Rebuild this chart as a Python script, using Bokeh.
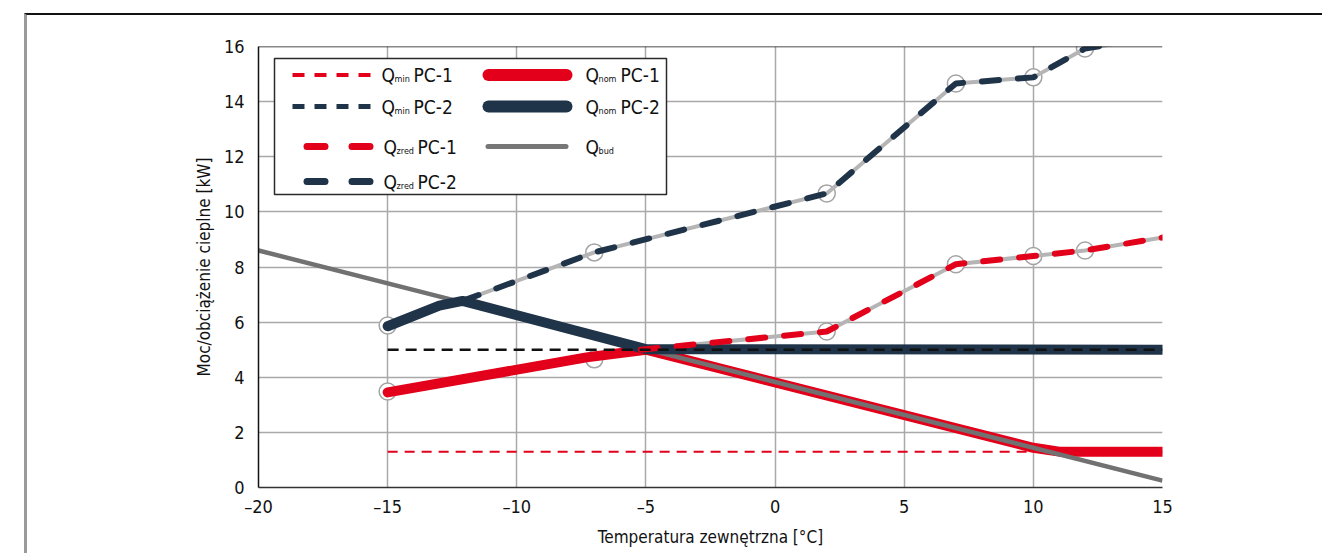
from bokeh.plotting import figure
from bokeh.models import Range1d, Span, FixedTicker
from bokeh.core.properties import value
from bokeh.embed import file_html
from bokeh.resources import INLINE

FONT = "DejaVu Sans Condensed, Liberation Sans, sans-serif"

# ---------------- data ----------------
x_ticks = [-20, -15, -10, -5, 0, 5, 10, 15]
x_tick_labels = ["–20", "–15", "–10", "–5", "0", "5", "10", "15"]
y_ticks = [0, 2, 4, 6, 8, 10, 12, 14, 16]

bud_t = [-20, 15]
bud_q = [8.6, 0.25]

nom1_t = [-15, -7.3, -5.0, 10.0, 11.0, 15]
nom1_q = [3.45, 4.72, 5.0, 1.44, 1.3, 1.3]

nom2_t = [-15, -13.0, -12.1, -5.0, 15]
nom2_q = [5.85, 6.6, 6.77, 5.02, 5.0]

zred1_t = [-5.2, 2, 7, 10, 12, 15]
zred1_q = [5.0, 5.66, 8.1, 8.4, 8.6, 9.07]

zred2_t = [-12.1, -7, 2, 7, 10, 12, 13.2]
zred2_q = [6.77, 8.53, 10.67, 14.66, 14.88, 15.93, 16.1]

min1_t = [-15, 15]
min1_q = [1.3, 1.3]
min2_t = [-15, 15]
min2_q = [5.0, 5.0]

pts1_t = [-15, -7, 2, 7, 10, 12]
pts1_q = [3.48, 4.65, 5.66, 8.1, 8.4, 8.6]
pts2_t = [-15, -7, 2, 7, 10, 12]
pts2_q = [5.88, 8.53, 10.67, 14.66, 14.88, 15.93]

x_title = "Temperatura zewnętrzna [°C]"
y_title = "Moc/obciążenie cieplne [kW]"

RED = "#e2001a"
NAVY = "#1f3349"
GREY = "#717171"
LGREY = "#b5b5b5"
GRID = "#a9a9a9"

X0, X1, Y0, Y1 = -20, 15, 0, 16
FW, FH = 904, 441

p = figure(width=1298, height=540, x_range=Range1d(X0, X1), y_range=Range1d(Y0, Y1),
           output_backend="svg", toolbar_location=None,
           min_border_left=231, min_border_right=163, min_border_top=31, min_border_bottom=68)
p.styles = {"margin-left": "24px", "margin-top": "13px",
            "border-top": "2px solid #111", "border-left": "3px solid #9a9a9a"}
p.outline_line_color = None
p.background_fill_color = "white"
p.border_fill_color = "white"

p.xaxis.ticker = FixedTicker(ticks=x_ticks)
p.xaxis.major_label_overrides = {t: l for t, l in zip(x_ticks, x_tick_labels)}
p.yaxis.ticker = FixedTicker(ticks=y_ticks)
for ax in (p.xaxis, p.yaxis):
    ax.major_tick_line_color = None
    ax.minor_tick_line_color = None
    ax.major_label_text_font = FONT
    ax.major_label_text_font_size = "18px"
    ax.major_label_text_color = "#111"
    ax.axis_label_text_font = FONT
    ax.axis_label_text_font_size = "17px"
    ax.axis_label_text_font_style = "normal"
    ax.axis_label_text_color = "#111"
    ax.axis_line_width = 1.5
p.xaxis.axis_line_color = "#333"
p.yaxis.axis_line_color = "#111"
p.xaxis.axis_label = x_title
p.yaxis.axis_label = y_title
p.xaxis.major_label_standoff = 2
p.yaxis.major_label_standoff = 8
p.xaxis.axis_label_standoff = 7
p.yaxis.axis_label_standoff = 7

p.xgrid.ticker = FixedTicker(ticks=x_ticks)
p.ygrid.ticker = FixedTicker(ticks=y_ticks)
p.grid.grid_line_color = GRID
p.grid.grid_line_width = 1.5

p.add_layout(Span(location=Y1, dimension="width", line_color="#111", line_width=1.5))

# ---------------- marks ----------------
p.scatter(pts1_t, pts1_q, size=17, fill_color="white", line_color="#a3a3a3", line_width=1.5)
p.scatter(pts2_t, pts2_q, size=17, fill_color="white", line_color="#a3a3a3", line_width=1.5)

p.line(zred1_t, zred1_q, line_color=LGREY, line_width=4, line_join="round")
p.line(zred2_t, zred2_q, line_color=LGREY, line_width=4, line_join="round")

p.line(min1_t, min1_q, line_color=RED, line_width=2, line_dash="10 7")
p.line(nom1_t, nom1_q, line_color=RED, line_width=10, line_join="round", line_cap="round")
p.line(bud_t, bud_q, line_color=GREY, line_width=4.5)
p.line(nom2_t, nom2_q, line_color=NAVY, line_width=10, line_join="round", line_cap="round")

p.line(zred1_t, zred1_q, line_color=RED, line_width=6, line_dash="17 19", line_cap="round")
p.line(zred2_t, zred2_q, line_color=NAVY, line_width=6, line_dash="17 19", line_cap="round")

p.line(min2_t, min2_q, line_color="#111", line_width=2.5, line_dash="11 7")

# ---------------- legend (pixel coordinates inside the frame) ----------------
p.extra_x_ranges = {"px": Range1d(0, FW)}
p.extra_y_ranges = {"py": Range1d(FH, 0)}
L = dict(x_range_name="px", y_range_name="py")

p.quad(left=[16], right=[408], top=[12], bottom=[148], fill_color="white",
       line_color="#2a2a2a", line_width=1.5, **L)

rows = [28.5, 60, 100, 135]
p.line([34, 112], [rows[0], rows[0]], line_color=RED, line_width=4, line_dash="12 10", **L)
p.line([34, 112], [rows[1], rows[1]], line_color=NAVY, line_width=5, line_dash="12 10", **L)
p.line([48.5, 111.5], [rows[2], rows[2]], line_color=RED, line_width=7, line_dash="18 27", line_cap="round", **L)
p.line([48.5, 111.5], [rows[3], rows[3]], line_color=NAVY, line_width=7, line_dash="18 27", line_cap="round", **L)
p.line([230, 308], [rows[0], rows[0]], line_color=RED, line_width=12, line_cap="round", **L)
p.line([230, 308], [rows[1], rows[1]], line_color=NAVY, line_width=12, line_cap="round", **L)
p.line([229.5, 307.5], [rows[2], rows[2]], line_color="#777777", line_width=5, line_cap="round", **L)

main_x = [123, 123, 125, 125, 327, 327, 327]
main_y = [rows[0], rows[1], rows[2], rows[3], rows[0], rows[1], rows[2]]
sub_x = [136, 136, 138, 138, 340, 340, 340]
sub_txt = ["min", "min", "zred", "zred", "nom", "nom", "bud"]
pc_x = [155, 155, 159, 159, 362, 362]
pc_txt = ["PC-1", "PC-2", "PC-1", "PC-2", "PC-1", "PC-2"]

p.text(main_x, main_y, text=["Q"] * 7, text_font=value(FONT),
       text_font_size="19px", text_baseline="middle", text_color="#111", **L)
p.text(sub_x, [y + 4 for y in main_y], text=sub_txt, text_font=value(FONT),
       text_font_size="9px", text_baseline="middle", text_color="#111", **L)
p.text(pc_x, main_y[:6], text=pc_txt, text_font=value(FONT),
       text_font_size="19px", text_baseline="middle", text_color="#111", **L)

open("out.html", "w").write(file_html(p, INLINE))
